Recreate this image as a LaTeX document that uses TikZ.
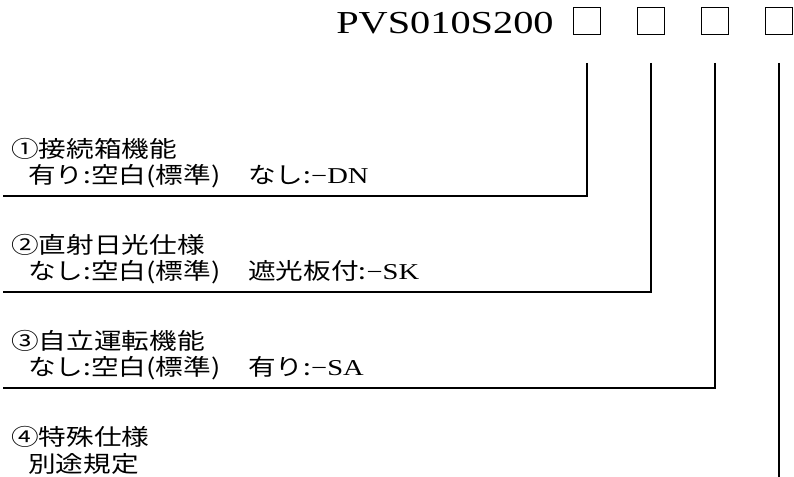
\documentclass[tikz,border=0pt]{standalone}
\usepackage{fontspec}
\setmainfont[FakeStretch=1.26]{Liberation Serif}
\newfontfamily\cjk[FakeStretch=1.22]{Noto Sans CJK JP}
\usetikzlibrary{positioning}

\begin{document}
\begin{tikzpicture}[
          x=0.75pt, y=-0.75pt,
          sq/.style={draw, line width=1.1pt, minimum width=20.25pt, minimum height=20pt, inner sep=0pt},
          ln/.style={line width=1.1pt},
          ttl/.style={font=\fontsize{24pt}{24pt}\selectfont, anchor=base west, inner sep=0pt},
          lbl/.style={font=\cjk\fontsize{17pt}{17pt}\selectfont, anchor=base west, inner sep=0pt}
      ]
        \useasboundingbox (0,0) rectangle (794,477);
        \node[ttl] (code) at (336,34) {PVS010S200};
        \node[sq] (b1) at (587,21) {};
        \node[sq] (b2) at (651,21) {};
        \node[sq] (b3) at (715,21) {};
        \node[sq] (b4) at (779,21) {};
        \node[lbl] (h1) at (11,158) {①接続箱機能};
        \node[lbl] (o1) at (28,184) {有り:空白(標準)　なし:{\rmfamily −DN}};
        \node[lbl] (h2) at (11,254) {②直射日光仕様};
        \node[lbl] (o2) at (28,280) {なし:空白(標準)　遮光板付:{\rmfamily −SK}};
        \node[lbl] (h3) at (11,350) {③自立運転機能};
        \node[lbl] (o3) at (28,376) {なし:空白(標準)　有り:{\rmfamily −SA}};
        \node[lbl] (h4) at (11,446) {④特殊仕様};
        \node[lbl] (o4) at (28,473) {別途規定};
        \coordinate (t1) at (587,63);
        \coordinate (t2) at (651,63);
        \coordinate (t3) at (715,63);
        \coordinate (t4) at (779,63);
        \coordinate (e1) at (3,196);
        \coordinate (e2) at (3,292);
        \coordinate (e3) at (3,388);
        \coordinate (e4) at (779,480);
        \draw[ln] (t1) |- (e1);
        \draw[ln] (t2) |- (e2);
        \draw[ln] (t3) |- (e3);
        \draw[ln] (t4) -- (e4);
      \end{tikzpicture}
\end{document}
